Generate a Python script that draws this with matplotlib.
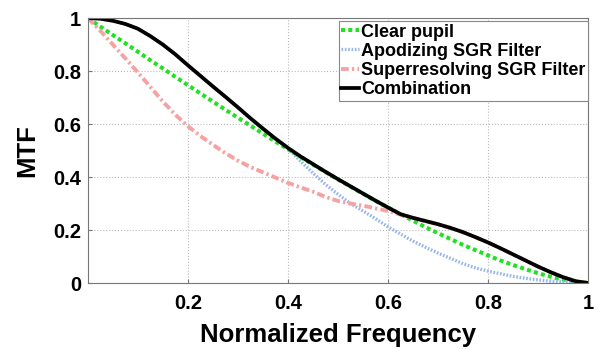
import matplotlib
matplotlib.use('Agg')
import matplotlib.pyplot as plt

plt.rcParams['font.family'] = 'Liberation Sans'
plt.rcParams['font.weight'] = 'bold'

# normalized spatial frequency sample points
freq = [0.0, 0.025, 0.05, 0.075, 0.1, 0.125, 0.15, 0.175, 0.2, 0.225, 0.25,
        0.275, 0.3, 0.325, 0.35, 0.375, 0.4, 0.425, 0.45, 0.475, 0.5, 0.525,
        0.55, 0.575, 0.6, 0.625, 0.65, 0.675, 0.7, 0.725, 0.75, 0.775, 0.8,
        0.825, 0.85, 0.875, 0.9, 0.925, 0.95, 0.975, 1.0]

clear_pupil = [1.0, 0.968, 0.936, 0.905, 0.873, 0.841, 0.810, 0.778, 0.747,
               0.716, 0.685, 0.654, 0.624, 0.594, 0.564, 0.534, 0.505, 0.476,
               0.447, 0.419, 0.391, 0.364, 0.337, 0.310, 0.285, 0.260, 0.235,
               0.211, 0.188, 0.166, 0.144, 0.124, 0.104, 0.085, 0.068, 0.052,
               0.037, 0.024, 0.013, 0.005, 0.0]
combination = [1.0, 0.998, 0.99, 0.978, 0.96, 0.932, 0.9, 0.863, 0.822,
               0.782, 0.742, 0.703, 0.663, 0.622, 0.583, 0.545, 0.51, 0.478,
               0.449, 0.42, 0.392, 0.365, 0.338, 0.311, 0.285, 0.26, 0.246,
               0.234, 0.222, 0.208, 0.192, 0.173, 0.153, 0.131, 0.108, 0.085,
               0.062, 0.041, 0.022, 0.007, 0.0]
apodizing = [1.0, 0.998, 0.99, 0.978, 0.96, 0.932, 0.9, 0.863, 0.822, 0.782,
             0.742, 0.703, 0.663, 0.622, 0.583, 0.545, 0.51, 0.46, 0.415,
             0.372, 0.335, 0.3, 0.272, 0.243, 0.212, 0.185, 0.158, 0.135,
             0.113, 0.093, 0.073, 0.057, 0.045, 0.035, 0.025, 0.018, 0.012,
             0.007, 0.004, 0.001, 0.0]
superresolving = [1.0, 0.952, 0.9, 0.848, 0.795, 0.74, 0.685, 0.635, 0.592,
                  0.555, 0.522, 0.49, 0.462, 0.438, 0.418, 0.398, 0.378,
                  0.361, 0.345, 0.325, 0.31, 0.3, 0.292, 0.282, 0.272, 0.258,
                  0.246, 0.234, 0.222, 0.208, 0.192, 0.173, 0.153, 0.131,
                  0.108, 0.085, 0.062, 0.041, 0.022, 0.007, 0.0]

xticks = [0.2, 0.4, 0.6, 0.8, 1.0]
xticklabels = ['0.2', '0.4', '0.6', '0.8', '1']
yticks = [0, 0.2, 0.4, 0.6, 0.8, 1.0]
yticklabels = ['0', '0.2', '0.4', '0.6', '0.8', '1']

fig = plt.figure(figsize=(6.02, 3.49), dpi=100)
ax = fig.add_axes([0.146, 0.189, 0.831, 0.759])

ax.plot(freq, clear_pupil, color='#22e022', lw=2.9,
        linestyle=(0, (1.0, 0.8)), label='Clear pupil')
ax.plot(freq, apodizing, color='#97b6e8', lw=2.4,
        linestyle=(0, (0.5, 0.5)), label='Apodizing SGR Filter')
ax.plot(freq, superresolving, color='#f6a2a2', lw=2.8,
        linestyle=(0, (2.0, 0.8, 0.6, 0.8)), label='Superresolving SGR Filter')
ax.plot(freq, combination, '-', color='black', lw=2.7, label='Combination')

ax.set_xlim(0, 1)
ax.set_ylim(0, 1)
ax.set_xticks(xticks)
ax.set_xticklabels(xticklabels)
ax.set_yticks(yticks)
ax.set_yticklabels(yticklabels)
ax.tick_params(labelsize=14.5, direction='in', length=3, color='#777777')
ax.tick_params(axis='x', pad=8)
ax.tick_params(axis='y', pad=5)
ax.grid(True, linestyle=':', color='#bbbbbb', lw=0.8)
for s in ax.spines.values():
    s.set_color('#777777')
    s.set_linewidth(0.8)

ax.set_xlabel('Normalized Frequency', fontsize=18.5, fontweight='bold',
              labelpad=7)
ax.set_ylabel('MTF', fontsize=18.5, fontweight='bold', labelpad=10)

leg = ax.legend(loc='upper right', bbox_to_anchor=(1.0, 0.99), fontsize=13,
                handlelength=1.0, handletextpad=0.1, labelspacing=0.12,
                borderpad=0.15, borderaxespad=0.0, fancybox=False,
                framealpha=1)
leg.get_frame().set_edgecolor('#888888')
leg.get_frame().set_linewidth(0.8)

fig.savefig('out.png', dpi=100)
